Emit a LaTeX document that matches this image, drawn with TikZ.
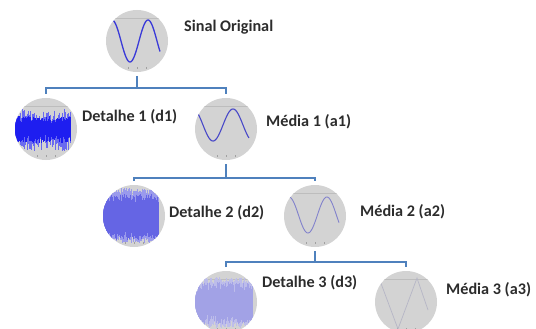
\documentclass[tikz,border=0pt]{standalone}
\usepackage{fontspec}
\setmainfont{Carlito}
\definecolor{discgray}{HTML}{D3D3D3}
\definecolor{connblue}{HTML}{4F81BD}
\definecolor{txtgray}{HTML}{2C2C2C}
\definecolor{framegray}{HTML}{BDBDBD}
\definecolor{tickgray}{HTML}{A0A0A0}
\definecolor{waveA}{HTML}{3A3AD8}
\definecolor{waveB}{HTML}{4848C8}
\definecolor{waveC}{HTML}{8282CC}
\definecolor{waveD}{HTML}{B6B6C6}
\definecolor{noiseAin}{HTML}{1E1EF0}
\definecolor{noiseAout}{HTML}{6A6AF0}
\definecolor{noiseBin}{HTML}{6565E4}
\definecolor{noiseBout}{HTML}{9A9AEC}
\definecolor{noiseCin}{HTML}{A2A2E6}
\definecolor{noiseCout}{HTML}{BDBDEA}
\newcommand\plotframe{%
  \draw[framegray,line width=0.6pt] (-31,-23) -- (31,-23);
  \foreach \tx in {-18,-9,0,9,18}{\draw[tickgray,line width=0.6pt] (\tx,26) -- (\tx,28);}
}
\begin{document}
\begin{tikzpicture}[x=1pt,y=-1pt]
\useasboundingbox (0,0) rectangle (536,329);
\tikzset{
  disc/.style={circle,fill=discgray,minimum size=62pt,inner sep=0pt,outer sep=4pt},
  conn/.style={draw=connblue,line width=1.9pt},
  lbl/.style={anchor=west,font=\bfseries\fontsize{16.2}{19}\selectfont,text=txtgray,inner sep=0pt}
}
\pgfmathsetseed{7}
% discs
\node[disc] (s)  at (137,41) {};
\node[disc] (d1) at (46,129) {};
\node[disc] (a1) at (226,129) {};
\node[disc] (d2) at (134,216) {};
\node[disc] (a2) at (315,216) {};
\node[disc] (d3) at (226,302) {};
\node[disc] (a3) at (406,302) {};
% labels
\node[lbl] (ts)  at (184,27) {Sinal Original};
\node[lbl] (td1) at (82,117) {Detalhe 1 (d1)};
\node[lbl] (ta1) at (266,122) {Média 1 (a1)};
\node[lbl] (td2) at (169,213) {Detalhe 2 (d2)};
\node[lbl] (ta2) at (360,212) {Média 2 (a2)};
\node[lbl] (td3) at (262,283) {Detalhe 3 (d3)};
\node[lbl] (ta3) at (446,290) {Média 3 (a3)};
% connectors
\coordinate (b0) at (137,88);
\coordinate (b1) at (226,178);
\coordinate (b2) at (315,262);
\draw[conn] (s.south) -- (b0);
\draw[conn] (d1.north) |- (b0) -| (a1.north);
\draw[conn] (a1.south) -- (b1);
\draw[conn] (d2.north) |- (b1) -| (a2.north);
\draw[conn] (a2.south) -- (b2);
\draw[conn] (d3.north) |- (b2) -| (a3.north);
% original signal
\begin{scope}[shift={(s.center)}]
  \clip (0,0) circle (31);
  \plotframe
  \draw[waveA,line width=1.3pt] plot[domain=-25:23,samples=80,smooth] (\x,{-21*cos((\x+25)*10)});
\end{scope}
% media 1
\begin{scope}[shift={(a1.center)}]
  \clip (0,0) circle (31);
  \plotframe
  \draw[waveB,line width=1.1pt] plot[domain=-30:23,samples=80,smooth] (\x,{-4-16*cos((\x+33)*9)});
\end{scope}
% media 2
\begin{scope}[shift={(a2.center)}]
  \clip (0,0) circle (31);
  \plotframe
  \draw[waveC,line width=0.9pt] plot[domain=-26:24,samples=80,smooth] (\x,{-1-18*cos((\x+26)*9.5)});
\end{scope}
% media 3
\begin{scope}[shift={(a3.center)}]
  \clip (0,0) circle (31);
  \plotframe
  \draw[waveD,line width=0.7pt] (-27,-24) -- (-8,27) -- (11,-24) -- (22,8);
\end{scope}
% detalhe 1
\begin{scope}[shift={(d1.center)}]
  \clip (0,0) circle (31);
  \plotframe
  \foreach \i in {0,...,120}{
    \pgfmathsetmacro\xx{-31+\i*0.46}
    \pgfmathsetmacro\ta{-(8+12*rnd^2)}
    \pgfmathsetmacro\tb{8+14*rnd^2}
    \draw[noiseAout,line width=0.45pt] (\xx,\ta) -- (\xx,\tb);
  }
  \foreach \i in {0,...,120}{
    \pgfmathsetmacro\xx{-31+\i*0.46}
    \pgfmathsetmacro\ta{-(5+8*rnd)}
    \pgfmathsetmacro\tb{5+9*rnd}
    \draw[noiseAin,line width=0.5pt] (\xx,\ta) -- (\xx,\tb);
  }
\end{scope}
% detalhe 2
\begin{scope}[shift={(d2.center)}]
  \clip (0,0) circle (31);
  \plotframe
  \foreach \i in {0,...,120}{
    \pgfmathsetmacro\xx{-31+\i*0.46}
    \pgfmathsetmacro\ta{-(20+8*rnd)}
    \pgfmathsetmacro\tb{20+7*rnd}
    \draw[noiseBout,line width=0.45pt] (\xx,\ta) -- (\xx,\tb);
  }
  \foreach \i in {0,...,120}{
    \pgfmathsetmacro\xx{-31+\i*0.46}
    \pgfmathsetmacro\ta{-(12+10*rnd)}
    \pgfmathsetmacro\tb{14+10*rnd}
    \draw[noiseBin,line width=0.5pt] (\xx,\ta) -- (\xx,\tb);
  }
\end{scope}
% detalhe 3
\begin{scope}[shift={(d3.center)}]
  \clip (0,0) circle (31);
  \plotframe
  \foreach \i in {0,...,124}{
    \pgfmathsetmacro\xx{-31+\i*0.46}
    \pgfmathsetmacro\ta{-(16+9*rnd)}
    \pgfmathsetmacro\tb{18+8*rnd}
    \draw[noiseCout,line width=0.45pt] (\xx,\ta) -- (\xx,\tb);
  }
  \foreach \i in {0,...,124}{
    \pgfmathsetmacro\xx{-31+\i*0.46}
    \pgfmathsetmacro\ta{-(10+10*rnd)}
    \pgfmathsetmacro\tb{12+10*rnd}
    \draw[noiseCin,line width=0.5pt] (\xx,\ta) -- (\xx,\tb);
  }
\end{scope}
\end{tikzpicture}
\end{document}
